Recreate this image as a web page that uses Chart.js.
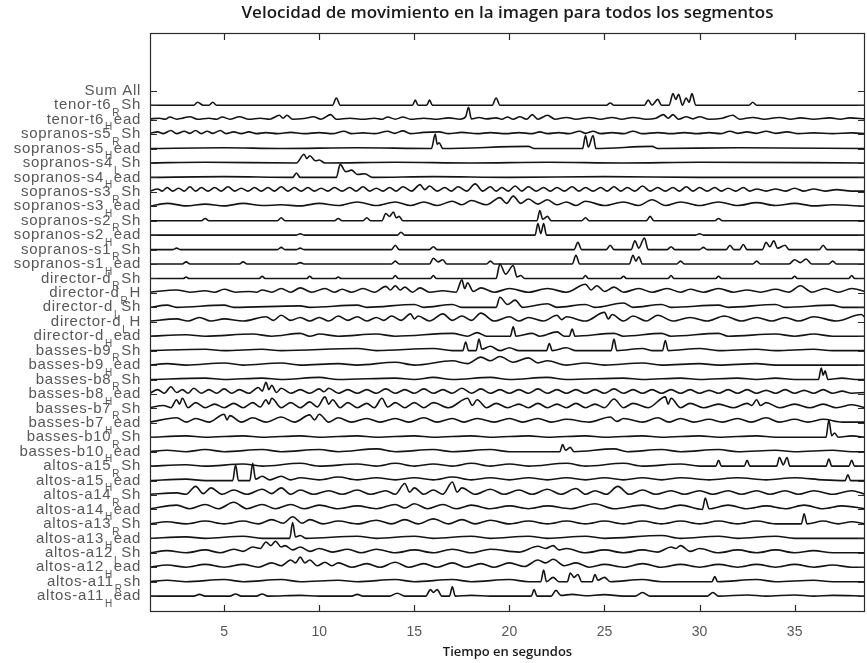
<!DOCTYPE html>
<html>
<head>
<meta charset="utf-8">
<script src="https://cdn.jsdelivr.net/npm/chart.js@4.4.0/dist/chart.umd.min.js"></script>
<style>
  html, body { margin: 0; padding: 0; background: #fff; }
  #wrap { width: 867px; height: 663px; }
</style>
</head>
<body>
<div id="wrap"><canvas id="myChart"></canvas></div>
<script>
// row labels: [main, subscript, rest]
const rowLabels = [
  ["Sum All", "", ""],
  ["tenor-t6", "R", "Sh"], ["tenor-t6", "H", "ead"],
  ["sopranos-s5", "R", "Sh"], ["sopranos-s5", "H", "ead"],
  ["sopranos-s4", "L", "Sh"], ["sopranos-s4", "H", "ead"],
  ["sopranos-s3", "R", "Sh"], ["sopranos-s3", "H", "ead"],
  ["sopranos-s2", "R", "Sh"], ["sopranos-s2", "H", "ead"],
  ["sopranos-s1", "R", "Sh"], ["sopranos-s1", "H", "ead"],
  ["director-d", "R", "Sh"], ["director-d", "R", "H"],
  ["director-d", "L", "Sh"], ["director-d", "L", "H"],
  ["director-d", "H", "ead"],
  ["basses-b9", "R", "Sh"], ["basses-b9", "H", "ead"],
  ["basses-b8", "R", "Sh"], ["basses-b8", "H", "ead"],
  ["basses-b7", "R", "Sh"], ["basses-b7", "H", "ead"],
  ["basses-b10", "R", "Sh"], ["basses-b10", "H", "ead"],
  ["altos-a15", "R", "Sh"], ["altos-a15", "H", "ead"],
  ["altos-a14", "R", "Sh"], ["altos-a14", "H", "ead"],
  ["altos-a13", "R", "Sh"], ["altos-a13", "H", "ead"],
  ["altos-a12", "L", "Sh"], ["altos-a12", "H", "ead"],
  ["altos-a11", "R", "sh"], ["altos-a11", "H", "ead"]
];
const xTicks = [5, 10, 15, 20, 25, 30, 35];

// each trace: time (s), speed (in row units), flat pairs
const tenorT6RSh = [1.1,0, 3.4,0, 3.6,.2, 3.9,0, 4.2,0, 4.4,.2, 4.6,0, 10.7,0, 10.9,.5, 11.1,0, 14.9,0, 15.05,.35, 15.2,0, 15.65,0, 15.8,.35, 15.95,0, 19.1,0, 19.3,.5, 19.5,0, 25.1,0, 25.3,.15, 25.5,0, 27.1,0, 27.3,.35, 27.5,0, 27.8,.4, 28.0,0, 28.4,0, 28.6,.8, 28.75,.4, 28.9,.75, 29.1,0, 29.3,.5, 29.45,.2, 29.6,.8, 29.8,0, 32.6,0, 32.8,.2, 33.0,0, 38.7,0];
const tenorT6Head = [1.1,.05, 1.6,.1, 1.9,.03, 2.15,.18, 2.5,.03, 2.8,.1, 3.2,.2, 3.6,.03, 4.2,.1, 4.6,.03, 4.9,.18, 5.3,.03, 5.8,.2, 6.3,.03, 6.9,.1, 7.4,.03, 7.9,.3, 8.1,.1, 8.3,.3, 8.6,.03, 9.2,.08, 9.7,.2, 10.1,.03, 10.6,.35, 10.9,.03, 11.6,.1, 12.3,.03, 12.9,.1, 13.3,.03, 13.6,.18, 14,.03, 14.4,.18, 14.8,.03, 15.5,.1, 16.2,.03, 16.8,.12, 17.4,.03, 17.7,.2, 17.85,.85, 18.0,.05, 18.4,.15, 18.8,.05, 19.3,.12, 19.6,.03, 19.9,.18, 20.2,.03, 20.55,.2, 20.9,.03, 21.2,.35, 21.5,.03, 22.0,.3, 22.4,.03, 23.0,.15, 23.5,.03, 24.2,.15, 24.8,.03, 25.4,.15, 25.9,.03, 26.5,.15, 27.2,.03, 27.7,.1, 28.1,.35, 28.35,.1, 28.6,.35, 28.9,.03, 29.3,.2, 29.65,.05, 30.0,.2, 30.5,.03, 31.2,.1, 31.75,.3, 32.1,.03, 32.8,.15, 33.4,.03, 34.2,.15, 34.8,.03, 35.3,.12, 36,.03, 36.85,.12, 37.4,.03, 37.9,.12, 38.7,.05];
const sopS5RSh = [1.1,.05, 1.5,.15, 1.8,.03, 2.2,.25, 2.5,.03, 2.9,.2, 3.2,.05, 3.5,.25, 3.8,.03, 4.1,.2, 4.4,.05, 4.8,.25, 5.1,.03, 5.5,.15, 5.9,.03, 6.3,.15, 6.7,.03, 7.2,.1, 7.8,.03, 8.5,.12, 9.2,.03, 10,.1, 10.7,.03, 11.3,.2, 11.7,.03, 12.3,.08, 12.9,.03, 13.6,.2, 13.95,.05, 14.4,.22, 14.8,.03, 15.5,.12, 16.3,.15, 16.8,.03, 17.5,.12, 18.3,.03, 19,.1, 19.8,.03, 20.5,.1, 21.2,.03, 21.6,.15, 22,.03, 22.6,.1, 23.1,.03, 23.7,.2, 24,.05, 24.4,.2, 24.8,.03, 25.4,.1, 26,.03, 26.5,.2, 27,.03, 27.8,.1, 28.5,.03, 29.2,.1, 29.9,.03, 30.5,.1, 31.1,.03, 31.6,.2, 32,.05, 32.5,.15, 33,.05, 33.5,.2, 34,.05, 34.6,.15, 35.2,.03, 36,.08, 37,.03, 38,.08, 38.7,.03];
const sopS5Head = [1.1,0, 5,.05, 8,0, 12,.05, 15.9,0, 16.1,1.0, 16.2,.3, 16.3,.4, 16.5,0, 21,.15, 21.3,0, 23.85,0, 24.0,.9, 24.15,.1, 24.4,.9, 24.55,0, 27.5,.15, 27.8,0, 32,.05, 38.7,0];
const sopS4LSh = [1.1,0, 4,.05, 8.8,0, 9.2,.6, 9.35,.3, 9.5,.5, 9.8,.15, 10,.2, 10.3,0, 14,.05, 18,0, 22,.05, 26,0, 30,.05, 38.7,0];
const sopS4Head = [1.1,0, 5,.05, 8.6,0, 8.8,.3, 9,0, 10.9,0, 11.1,.9, 11.4,.4, 11.7,.5, 12,.2, 12.4,.25, 12.8,0, 16,.05, 20,0, 25,.05, 30,0, 38.7,0];
const sopS3RSh = [1.1,.05, 1.5,.2, 1.75,.05, 2.0,.3, 2.3,.05, 2.6,.25, 2.9,.05, 3.2,.35, 3.5,.05, 3.8,.3, 4.15,.05, 4.5,.3, 4.85,.05, 5.2,.35, 5.55,.05, 5.9,.25, 6.25,.05, 6.6,.3, 6.95,.05, 7.3,.3, 7.65,.05, 8,.35, 8.35,.05, 8.7,.3, 9.05,.05, 9.4,.3, 9.75,.05, 10.1,.25, 10.45,.05, 10.8,.3, 11.2,.05, 11.6,.3, 11.95,.05, 12.3,.35, 12.65,.05, 13,.25, 13.35,.05, 13.7,.3, 14.05,.05, 14.4,.35, 14.85,.05, 15.3,.5, 15.55,.15, 15.8,.4, 16.2,.05, 16.6,.3, 16.95,.05, 17.3,.35, 17.75,.05, 18.2,.55, 18.6,.05, 19,.35, 19.3,.05, 19.6,.3, 19.95,.05, 20.3,.4, 20.65,.05, 21,.35, 21.4,.05, 21.8,.3, 22.15,.05, 22.5,.3, 22.9,.05, 23.3,.35, 23.65,.05, 24,.3, 24.4,.05, 24.8,.3, 25.15,.05, 25.5,.35, 25.85,.05, 26.2,.3, 26.6,.05, 27,.4, 27.4,.05, 27.8,.3, 28.2,.05, 28.6,.3, 28.95,.05, 29.3,.35, 29.65,.05, 30,.3, 30.4,.05, 30.8,.3, 31.15,.05, 31.5,.25, 31.9,.05, 32.3,.3, 32.65,.05, 33,.2, 33.5,.05, 34,.2, 34.5,.05, 35,.25, 35.5,.05, 36,.2, 36.6,.05, 37.2,.15, 38,.05, 38.7,.05];
const sopS3Head = [1.1,0, 2,.2, 3,.03, 4,.15, 5,.03, 6,.2, 7,.05, 8,.1, 9,.03, 10,.2, 11,.05, 12,.3, 13,.05, 14,.3, 14.8,.05, 15.5,.3, 16.2,.05, 17,.35, 17.5,.1, 18,.4, 18.8,.1, 19.5,.6, 19.85,.2, 20.2,.7, 20.6,.2, 21,.5, 21.5,.15, 22,.45, 22.5,.1, 23,.3, 23.5,.05, 24,.35, 25,.05, 26,.3, 26.8,.05, 27.5,.45, 28.2,.05, 29,.3, 30,.05, 31,.3, 32,.05, 33,.25, 34,.05, 35,.2, 36,.03, 37,.1, 38.7,0];
const sopS2RSh = [1.1,0, 3.8,0, 4,.15, 4.2,0, 7.8,0, 8,.2, 8.2,0, 10.8,0, 11,.15, 11.2,0, 12.3,0, 12.5,.2, 12.7,0, 13.3,0, 13.5,.5, 13.7,.3, 13.9,.6, 14.05,.2, 14.2,.3, 14.4,0, 21.45,0, 21.6,.7, 21.75,.1, 22,.3, 22.2,0, 23.8,0, 24,.2, 24.2,0, 27.2,0, 27.4,.3, 27.6,0, 30.8,0, 31,.15, 31.2,0, 38.7,0];
const sopS2Head = [1.1,0, 8.8,0, 9,.1, 9.2,0, 14.1,0, 14.3,.2, 14.5,0, 21.35,0, 21.5,.8, 21.65,.1, 21.8,.8, 21.95,0, 29.8,0, 30,.1, 30.2,0, 38.7,0];
const sopS1RSh = [1.1,0, 2.3,0, 2.5,.1, 2.7,0, 7.8,0, 8,.15, 8.2,0, 8.8,0, 9,.1, 9.2,0, 13.8,0, 14,.3, 14.2,0, 15.8,0, 16,.2, 16.2,0, 23.4,0, 23.6,.5, 23.8,0, 25.1,0, 25.3,.3, 25.5,0, 26.4,0, 26.6,.6, 26.8,.1, 27.1,.8, 27.3,0, 28.3,0, 28.5,.2, 28.7,0, 30,0, 30.2,.15, 30.4,0, 31.4,0, 31.6,.3, 31.8,0, 32.1,0, 32.3,.35, 32.5,0, 33.3,0, 33.5,.5, 33.7,.2, 33.9,.6, 34.1,.1, 34.5,.3, 34.7,0, 36.3,0, 36.5,.3, 36.7,0, 38.7,0];
const sopS1Head = [1.1,0, 2.8,0, 3,.15, 3.2,0, 5.8,0, 6,.15, 6.2,0, 8.8,0, 9,.1, 9.2,0, 13.8,0, 14,.2, 14.2,0, 15.8,0, 16,.4, 16.25,.15, 16.5,.3, 16.7,0, 18.8,0, 19,.2, 19.2,0, 23.3,0, 23.5,.6, 23.7,0, 26.3,0, 26.5,.6, 26.65,.2, 26.8,.5, 27,0, 28.8,0, 29,.2, 29.2,0, 32.8,0, 33,.2, 33.2,0, 34.7,0, 35,.3, 35.3,.1, 35.6,.35, 35.9,0, 36.8,0, 37,.2, 37.2,0, 38.7,0];
const dirRSh = [1.1,0, 2.85,0, 3,.1, 3.15,0, 6.85,0, 7,.15, 7.15,0, 9.35,0, 9.5,.15, 9.65,0, 10.85,0, 11,.1, 11.15,0, 13.85,0, 14,.2, 14.15,0, 15.85,0, 16,.2, 16.15,0, 19.3,0, 19.5,1.0, 19.8,.3, 20.2,.9, 20.4,.1, 20.6,.2, 20.8,0, 23.85,0, 24,.2, 24.15,0, 25.85,0, 26,.15, 26.15,0, 28.35,0, 28.5,.2, 28.65,0, 30.85,0, 31,.15, 31.15,0, 34.85,0, 35,.15, 35.15,0, 37.85,0, 38,.2, 38.15,0, 38.7,0];
const dirRH = [1.1,.05, 2.5,.2, 3.2,.05, 4,.15, 4.5,.05, 5,.25, 5.6,.05, 6.3,.1, 6.7,.05, 7,.2, 7.5,.05, 8,.3, 8.5,.05, 9,.35, 9.6,.05, 10.3,.3, 10.8,.05, 11.2,.25, 11.7,.05, 12.3,.3, 12.9,.05, 13.5,.45, 13.75,.2, 14,.5, 14.25,.2, 14.5,.4, 14.9,.05, 15.3,.35, 15.8,.05, 16.5,.15, 17.2,.05, 17.5,.9, 17.65,.3, 17.8,.7, 18.1,.1, 18.5,.35, 19.2,.05, 20,.3, 21,.05, 22,.3, 23,.05, 24,.6, 24.3,.2, 24.6,.5, 25,.1, 25.5,.4, 26,.05, 26.8,.3, 27.5,.05, 28.3,.3, 29,.05, 29.5,.25, 30.2,.05, 31,.3, 31.8,.05, 32.5,.2, 33.2,.05, 34,.25, 34.7,.05, 35.3,.5, 35.9,.05, 36.6,.3, 37.3,.05, 38,.3, 38.7,.1];
const dirLSh = [1.1,0, 2,.15, 2.5,0, 5,.15, 5.5,0, 9,.1, 9.5,0, 12,.15, 12.5,0, 15,.2, 15.5,0, 17,.2, 17.5,0, 19.3,0, 19.5,.7, 19.9,.2, 20.3,.5, 20.7,0, 22,.25, 22.5,0, 24,.2, 24.5,0, 26,.3, 26.5,0, 28,.2, 28.5,0, 31,.15, 31.5,0, 34,.2, 34.5,0, 37,.15, 37.5,0, 38.7,0];
const dirLH = [1.1,.05, 2.5,.2, 3.1,.05, 3.7,.3, 4.3,.05, 5,.2, 6,.05, 7.2,.35, 7.6,.1, 8,.45, 8.5,.1, 9,.3, 9.5,.05, 10,.3, 10.5,.05, 11,.4, 11.5,.1, 12,.35, 12.5,.05, 13,.3, 13.4,.1, 13.8,.4, 14.3,.1, 14.8,.55, 15,.2, 15.2,.4, 15.8,.05, 16.5,.55, 17,.1, 17.5,.4, 18,.1, 18.5,.6, 19.2,.05, 20,.35, 20.5,.05, 21,.3, 21.8,.05, 22.5,.45, 22.75,.15, 23,.35, 24,.05, 25,.65, 25.2,.2, 25.4,.5, 26,.05, 26.5,.4, 27.2,.05, 27.8,.45, 28.6,.05, 29.5,.3, 30.4,.05, 31.3,.4, 32.2,.05, 33,.3, 33.8,.05, 34.5,.3, 35.2,.05, 36,.35, 37.2,.05, 38.5,.5, 38.7,.3];
const dirHead = [1.1,0, 3,.1, 4,0, 6.5,.15, 7.5,0, 9,.2, 9.5,0, 10,.15, 11,0, 13,.15, 14,0, 17,.2, 17.8,0, 18.3,.25, 18.8,0, 20.05,0, 20.2,.65, 20.35,0, 21.2,.2, 21.6,0, 22.5,.3, 22.9,0, 23.15,0, 23.3,.5, 23.45,0, 25.5,.2, 26,0, 28,.2, 28.5,0, 31,.2, 31.5,0, 34,.15, 35,0, 36,.15, 37,0, 38.7,0];
const basB9RSh = [1.1,0, 4,.1, 5,0, 7,.1, 8,0, 12,.15, 13,0, 16,.15, 17,0, 17.55,0, 17.7,.6, 17.85,0, 18.25,0, 18.4,.8, 18.55,.1, 19,.3, 19.5,0, 20,.2, 20.5,0, 21.95,0, 22.1,.5, 22.25,0, 23,.2, 23.5,0, 25.35,0, 25.5,.8, 25.65,0, 27,.15, 27.5,0, 28.05,0, 28.2,.7, 28.35,0, 30,.15, 31,0, 33,.1, 34,0, 36,.1, 37,0, 38.7,0];
const basB9Head = [1.1,0, 2,.1, 3,0, 5,.15, 6,0, 8,.15, 9,0, 11,.1, 12,0, 14,.2, 15,0, 17,.3, 17.8,.1, 18.5,.55, 19,.3, 19.5,.6, 20.2,.2, 21,.5, 21.5,.15, 22,.3, 23,0, 24,.15, 25,0, 27,.15, 28,0, 30,.1, 31,0, 33,.1, 34,0, 38.7,0];
const basB8RSh = [1.1,0, 4,.1, 5,0, 7,.1, 8,0, 10,.15, 11,0, 14,.1, 15,0, 16,.15, 17,0, 19,.15, 20,0, 22,.15, 23,0, 26,.1, 27,0, 29,.1, 30,0, 32,.1, 33,0, 34,.1, 35,0, 36.25,0, 36.4,.8, 36.5,.3, 36.6,.6, 36.75,0, 37.5,.1, 38.2,0, 38.7,0];
const basB8Head = [1.1,.05, 1.5,.3, 1.85,.05, 2.2,.5, 2.5,.1, 2.8,.3, 3.1,.05, 3.4,.4, 3.8,.05, 4.2,.3, 4.6,.05, 5,.35, 5.4,.05, 5.8,.3, 6.3,.05, 6.8,.45, 7,.2, 7.2,.8, 7.35,.3, 7.5,.6, 7.75,.1, 8,.4, 8.5,.05, 9,.3, 9.5,.05, 10,.35, 10.25,.15, 10.5,.4, 11,.05, 11.5,.3, 12,.05, 12.5,.3, 13,.05, 13.5,.35, 14,.05, 14.5,.3, 15,.05, 15.5,.35, 16,.05, 16.5,.3, 17,.05, 17.5,.4, 18,.05, 18.5,.35, 19,.05, 19.5,.3, 20,.05, 20.5,.3, 21,.05, 21.5,.35, 22,.05, 22.5,.3, 23,.05, 23.5,.3, 24,.05, 24.5,.3, 25,.05, 25.5,.35, 26,.05, 26.5,.3, 27,.05, 27.5,.3, 28,.05, 28.5,.3, 29,.05, 29.5,.3, 30,.05, 30.5,.25, 31,.05, 31.5,.3, 32,.05, 32.5,.3, 33,.05, 33.5,.25, 34,.05, 34.5,.3, 35,.05, 35.5,.25, 36,.05, 36.5,.3, 37,.05, 37.5,.2, 38,.05, 38.7,.1];
const basB7RSh = [1.1,.05, 1.8,.2, 2.2,.05, 2.5,.6, 2.65,.3, 2.8,.7, 3.1,.05, 3.5,.4, 4,.05, 4.5,.3, 5,.05, 5.5,.35, 6,.05, 6.5,.4, 6.9,.1, 7.2,.6, 7.35,.3, 7.5,.7, 8,.05, 8.5,.4, 9,.05, 9.5,.45, 9.9,.1, 10.3,.8, 10.5,.3, 10.7,.6, 11.1,.05, 11.5,.4, 12,.05, 12.5,.35, 12.9,.05, 13.3,.7, 13.6,.1, 14,.4, 14.5,.05, 15,.4, 15.5,.05, 16,.4, 16.8,.05, 17.8,.7, 18.05,.2, 18.3,.6, 18.8,.05, 19.3,.35, 19.9,.05, 20.5,.3, 21,.05, 21.5,.35, 22,.05, 22.5,.3, 23,.05, 23.5,.35, 24,.05, 24.5,.3, 25,.05, 25.5,.65, 26,.05, 26.5,.35, 27.3,.05, 28.2,.8, 28.35,.3, 28.5,.7, 29,.05, 29.5,.35, 30.2,.05, 31,.3, 31.8,.05, 32.5,.35, 32.75,.2, 33,.6, 33.2,.2, 33.5,.4, 34.2,.05, 35,.3, 35.8,.05, 36.5,.3, 37.2,.05, 38,.25, 38.7,.05];
const basB7Head = [1.1,.05, 2.5,.35, 3,.05, 3.5,.3, 4.2,.05, 5,.6, 5.15,.2, 5.3,.5, 5.9,.05, 6.5,.35, 7.2,.05, 8,.4, 8.7,.05, 9.5,.55, 9.75,.2, 10,.6, 10.5,.05, 11,.35, 11.7,.05, 12.5,.3, 13.2,.05, 14,.3, 14.7,.05, 15.5,.35, 16.2,.05, 17,.3, 17.6,.05, 18.3,.3, 19.2,.05, 20,.3, 20.7,.05, 21.5,.3, 22.2,.05, 23,.25, 24.2,.05, 25.3,.4, 25.65,.1, 26,.3, 27,.05, 27.8,.35, 28.4,.05, 29,.3, 29.7,.05, 30.5,.25, 31.2,.05, 32,.3, 32.7,.05, 33.5,.35, 34.2,.05, 35,.25, 35.7,.05, 36.5,.25, 37.5,.05, 38.7,.05];
const basB10RSh = [1.1,0, 3,.1, 4,0, 6,.1, 7,0, 9,.1, 10,0, 12,.1, 13,0, 15,.1, 16,0, 18,.1, 19,0, 21,.1, 22,0, 24,.1, 25,0, 27,.1, 28,0, 30,.1, 31,0, 33,.1, 34,0, 36.65,0, 36.8,1.2, 36.95,.1, 37.1,.3, 37.3,0, 38,.1, 38.7,0];
const basB10Head = [1.1,0, 2,.1, 3,0, 4,.15, 5,0, 7,.15, 8,0, 10,.15, 11,0, 13,.2, 14,0, 16,.15, 17,0, 19,.15, 20,0, 22.65,0, 22.8,.5, 22.95,.1, 23.2,.3, 23.4,0, 25.5,.2, 26.2,0, 28,.15, 29,0, 31,.15, 32,0, 34,.1, 35,0, 37,.1, 38,0, 38.7,0];
const altA15RSh = [1.1,0, 3,.1, 4,0, 6,.15, 7,0, 9,.2, 10,0, 12,.15, 13,0, 14,.2, 15,0, 16,.15, 17,0, 18,.2, 19,0, 20,.15, 21,0, 23,.2, 24,0, 26,.2, 27,0, 29,.15, 30,0, 30.85,0, 31,.4, 31.15,0, 32.35,0, 32.5,.4, 32.65,0, 34.05,0, 34.2,.6, 34.4,.1, 34.6,.6, 34.75,0, 36.65,0, 36.8,.5, 36.95,0, 37.85,0, 38,.4, 38.15,0, 38.7,0];
const altA15Head = [1.1,0, 3,.1, 4,0, 5.45,0, 5.6,1.1, 5.75,0, 6.35,0, 6.5,1.2, 6.65,.1, 7,.3, 7.4,.05, 8,.3, 8.5,.05, 9,.2, 10,.05, 11,.25, 12,.05, 13,.2, 14,.05, 15,.2, 16,.05, 17,.25, 18,.05, 19,.2, 20,.05, 21,.2, 22,.05, 23,.2, 24,.05, 25,.2, 26,.05, 27,.2, 28,.05, 29,.2, 30.5,.05, 32,.2, 33.5,.05, 35,.2, 36.5,.05, 37.65,0, 37.8,.4, 37.95,0, 38.7,0];
const altA14RSh = [1.1,.05, 2.5,.15, 3,.05, 3.5,.6, 3.9,.1, 4.3,.5, 4.9,.05, 5.5,.35, 6.2,.05, 7,.4, 7.5,.1, 8,.5, 8.5,.05, 9,.35, 9.7,.05, 10.5,.3, 11.2,.05, 12,.35, 12.7,.05, 13.5,.3, 14,.05, 14.5,.8, 14.75,.2, 15,.5, 15.5,.05, 16,.35, 16.5,.05, 17,.9, 17.25,.2, 17.5,.5, 18.2,.05, 19,.4, 19.7,.05, 20.5,.35, 21.2,.05, 22,.4, 22.7,.05, 23.5,.45, 24,.05, 24.5,.3, 25.1,.05, 25.7,.6, 26.3,.05, 27,.35, 27.7,.05, 28.5,.3, 29.2,.05, 30,.3, 30.7,.05, 31.5,.3, 32.2,.05, 33,.3, 33.7,.05, 34.5,.3, 35.2,.05, 36,.3, 37,.05, 38,.3, 38.7,.05];
const altA14Head = [1.1,.05, 2.5,.3, 3.2,.05, 4,.35, 4.7,.05, 5.5,.5, 6.2,.05, 7,.35, 7.7,.05, 8.5,.35, 9.2,.05, 10,.3, 11,.05, 12,.25, 13,.05, 14,.35, 14.5,.1, 15,.4, 15.7,.05, 16.5,.35, 17.2,.05, 18,.3, 19,.05, 20,.25, 21,.05, 22,.25, 23.2,.05, 24.5,.4, 25.5,.05, 27,.3, 28,.05, 29,.3, 30.15,0, 30.3,.8, 30.5,.05, 31.5,.3, 32.5,.05, 33.5,.25, 34.5,.05, 35.5,.3, 36.5,.05, 37.5,.25, 38.7,.05];
const altA13RSh = [1.1,0, 2,.15, 3,0, 4,.2, 5,0, 6,.2, 6.8,0, 7.5,.3, 8.1,.05, 8.6,.5, 9.1,.05, 9.5,.3, 10.2,0, 11,.2, 12,0, 13,.25, 13.8,0, 14.5,.3, 15.2,0, 16,.35, 16.8,0, 17.5,.3, 18.2,0, 19,.25, 20,0, 21,.2, 22,0, 23,.2, 24,0, 25,.2, 26,0, 27,.2, 28,0, 29,.2, 30,0, 31,.2, 32,0, 33,.2, 34,0, 35.35,0, 35.5,.7, 35.65,0, 36.5,.2, 37.3,0, 38,.15, 38.7,0];
const altA13Head = [1.1,0, 3,.1, 4,0, 6,.15, 7,0, 8.45,0, 8.6,1.1, 8.75,.1, 9,.2, 9.3,0, 12,.15, 13,0, 15,.15, 16,0, 18,.15, 19,0, 21,.15, 22,0, 24,.15, 25,0, 28,.2, 29,0, 31,.15, 32,0, 34,.15, 35,0, 38.7,0];
const altA12LSh = [1.1,0, 2,.15, 3,0, 4,.2, 4.8,0, 5.5,.25, 6,.1, 6.5,.4, 6.9,.3, 7.2,.75, 7.45,.5, 7.7,.8, 8,.4, 8.2,.5, 8.6,.2, 9,.4, 9.5,.1, 10,.3, 10.7,.05, 11.5,.25, 12.2,0, 13,.25, 14,0, 15,.2, 16,0, 17,.25, 18,0, 19,.25, 20.5,.05, 21.5,.45, 21.9,.3, 22.3,.5, 22.6,.2, 23,.3, 24,0, 25,.2, 26,0, 27,.2, 27.8,.05, 28.5,.4, 28.75,.3, 29,.5, 29.5,.1, 30,.3, 31,0, 32,.2, 33,0, 34,.2, 35,0, 36,.15, 37,0, 38.7,0];
const altA12Head = [1.1,0, 2,.15, 3,0, 4,.2, 5,0, 6,.2, 6.8,0, 7.5,.3, 8,.1, 8.5,.5, 8.75,.3, 9,.7, 9.25,.3, 9.5,.5, 9.9,.1, 10.3,.35, 10.65,.1, 11,.3, 11.7,0, 12.5,.25, 13.2,0, 14,.35, 14.7,0, 15.5,.25, 16.2,0, 17,.3, 17.7,0, 18.5,.25, 19.2,0, 20,.3, 20.8,.05, 21.5,.5, 21.9,.3, 22.3,.55, 22.9,.1, 23.5,.3, 24.2,0, 25,.2, 26,0, 27,.25, 28,0, 29,.2, 30,0, 31,.2, 32,0, 33,.2, 34,0, 35,.2, 36,0, 37,.15, 38,0, 38.7,0];
const altA11RSh = [1.1,0, 2,.1, 3,0, 5,.15, 6,0, 8,.15, 9,0, 11,.1, 12,0, 14,.15, 15,0, 17,.15, 18,0, 20,.15, 21,0, 21.65,0, 21.8,.8, 21.95,0, 22.3,.3, 22.6,0, 23.05,0, 23.2,.6, 23.4,.3, 23.6,.5, 23.8,0, 24.35,0, 24.5,.5, 24.65,.1, 25,.3, 25.3,0, 27,.15, 28,0, 30.65,0, 30.8,.35, 30.95,0, 33,.15, 34,0, 36,.1, 37,0, 38.7,0];
const altA11Head = [1.1,0, 3.4,0, 3.7,.12, 4,0, 5.3,0, 5.6,.15, 5.9,0, 6.7,0, 7.0,.15, 7.3,0, 9,.05, 10,0, 11.7,0, 12.0,.12, 12.3,0, 13.7,0, 14.1,.2, 14.5,0, 15.6,0, 15.85,.45, 16.0,.25, 16.2,.45, 16.45,0, 16.85,0, 17.0,.65, 17.15,0, 18,.05, 19,0, 21.15,0, 21.3,.45, 21.45,0, 22.2,0, 22.45,.4, 22.7,.05, 23.3,.12, 24,.03, 25,.1, 26,0, 26.6,0, 27.0,.25, 27.4,0, 30.4,0, 30.7,.25, 31,0, 32.5,.08, 33.5,0, 35,.08, 36,0, 37,.05, 38.7,0];

const traces = [
  tenorT6RSh, tenorT6Head, sopS5RSh, sopS5Head, sopS4LSh, sopS4Head,
  sopS3RSh, sopS3Head, sopS2RSh, sopS2Head, sopS1RSh, sopS1Head,
  dirRSh, dirRH, dirLSh, dirLH, dirHead,
  basB9RSh, basB9Head, basB8RSh, basB8Head, basB7RSh, basB7Head, basB10RSh, basB10Head,
  altA15RSh, altA15Head, altA14RSh, altA14Head, altA13RSh, altA13Head,
  altA12LSh, altA12Head, altA11RSh, altA11Head
];

// traces sit on rows 1..35 (row 0 is the "Sum All" tick)
const datasets = traces.map(function (t, k) {
  const pts = [];
  for (let i = 0; i < t.length; i += 2) {
    pts.push({ x: t[i], y: (k + 1) - t[i + 1] });
  }
  return {
    data: pts,
    borderColor: '#141414',
    borderWidth: 1.6,
    pointRadius: 0,
    cubicInterpolationMode: 'monotone',
    tension: 0.3
  };
});

const frame = {
  id: 'frame',
  afterDraw(chart) {
    const ctx = chart.ctx;
    const a = chart.chartArea;
    const x = chart.scales.x, y = chart.scales.y;
    ctx.save();
    ctx.strokeStyle = '#2b2b2b';
    ctx.lineWidth = 1.2;
    ctx.strokeRect(a.left + 0.5, a.top + 0.5, a.width - 1, a.height - 1);
    ctx.beginPath();
    xTicks.forEach(function (v) {
      const px = Math.round(x.getPixelForValue(v)) + 0.5;
      ctx.moveTo(px, a.bottom); ctx.lineTo(px, a.bottom - 7);
      ctx.moveTo(px, a.top); ctx.lineTo(px, a.top + 7);
    });
    rowLabels.forEach(function (l, i) {
      const py = Math.round(y.getPixelForValue(i)) + 0.5;
      ctx.moveTo(a.left, py); ctx.lineTo(a.left + 7, py);
      ctx.moveTo(a.right, py); ctx.lineTo(a.right - 7, py);
    });
    ctx.stroke();

    // row labels with their subscript letter
    ctx.fillStyle = '#585858';
    ctx.textBaseline = 'middle';
    ctx.textAlign = 'left';
    ctx.letterSpacing = '0.7px';
    const big = '15px "Liberation Sans", Arial, sans-serif';
    const small = '10px "Liberation Sans", Arial, sans-serif';
    rowLabels.forEach(function (l, i) {
      const py = y.getPixelForValue(i);
      ctx.font = big;
      const wMain = ctx.measureText(l[0]).width;
      const wRest = ctx.measureText(l[2]).width;
      ctx.font = small;
      const wSub = l[1] ? ctx.measureText(l[1]).width + 2 : 0;
      const x0 = a.left - 9 - wRest - wSub - wMain;
      ctx.font = big;
      ctx.fillText(l[0], x0, py);
      if (l[1]) {
        ctx.font = small;
        ctx.fillText(l[1], x0 + wMain + 1, py + 8);
      }
      ctx.font = big;
      ctx.fillText(l[2], x0 + wMain + wSub, py);
    });
    ctx.restore();
  }
};

new Chart(document.getElementById('myChart'), {
  type: 'line',
  data: { datasets: datasets },
  options: {
    responsive: true,
    maintainAspectRatio: false,
    animation: false,
    layout: { padding: { right: 2 } },
    plugins: {
      legend: { display: false },
      tooltip: { enabled: false },
      title: {
        display: true,
        fullSize: false,
        text: 'Velocidad de movimiento en la imagen para todos los segmentos',
        color: '#1a1a1a',
        font: { family: '"Open Sans", sans-serif', size: 17, weight: '600' },
        padding: { top: 3, bottom: 9.6 }
      }
    },
    scales: {
      x: {
        type: 'linear',
        min: 1.1,
        max: 38.7,
        afterBuildTicks: function (s) { s.ticks = xTicks.map(function (v) { return { value: v }; }); },
        afterFit: function (s) { s.height = 51; },
        grid: { display: false, drawTicks: false },
        border: { display: false },
        ticks: {
          padding: 12,
          color: '#585858',
          font: { family: '"Liberation Sans", Arial, sans-serif', size: 14 }
        },
        title: {
          display: true,
          text: 'Tiempo en segundos',
          color: '#1a1a1a',
          font: { family: '"Open Sans", sans-serif', size: 13, weight: '600' },
          padding: { top: 2, bottom: 3 }
        }
      },
      y: {
        type: 'linear',
        reverse: true,
        min: -4,
        max: 36.1,
        afterFit: function (s) { s.width = 150; },
        grid: { display: false, drawTicks: false },
        border: { display: false },
        ticks: { display: false }
      }
    }
  },
  plugins: [frame]
});
</script>
</body>
</html>
